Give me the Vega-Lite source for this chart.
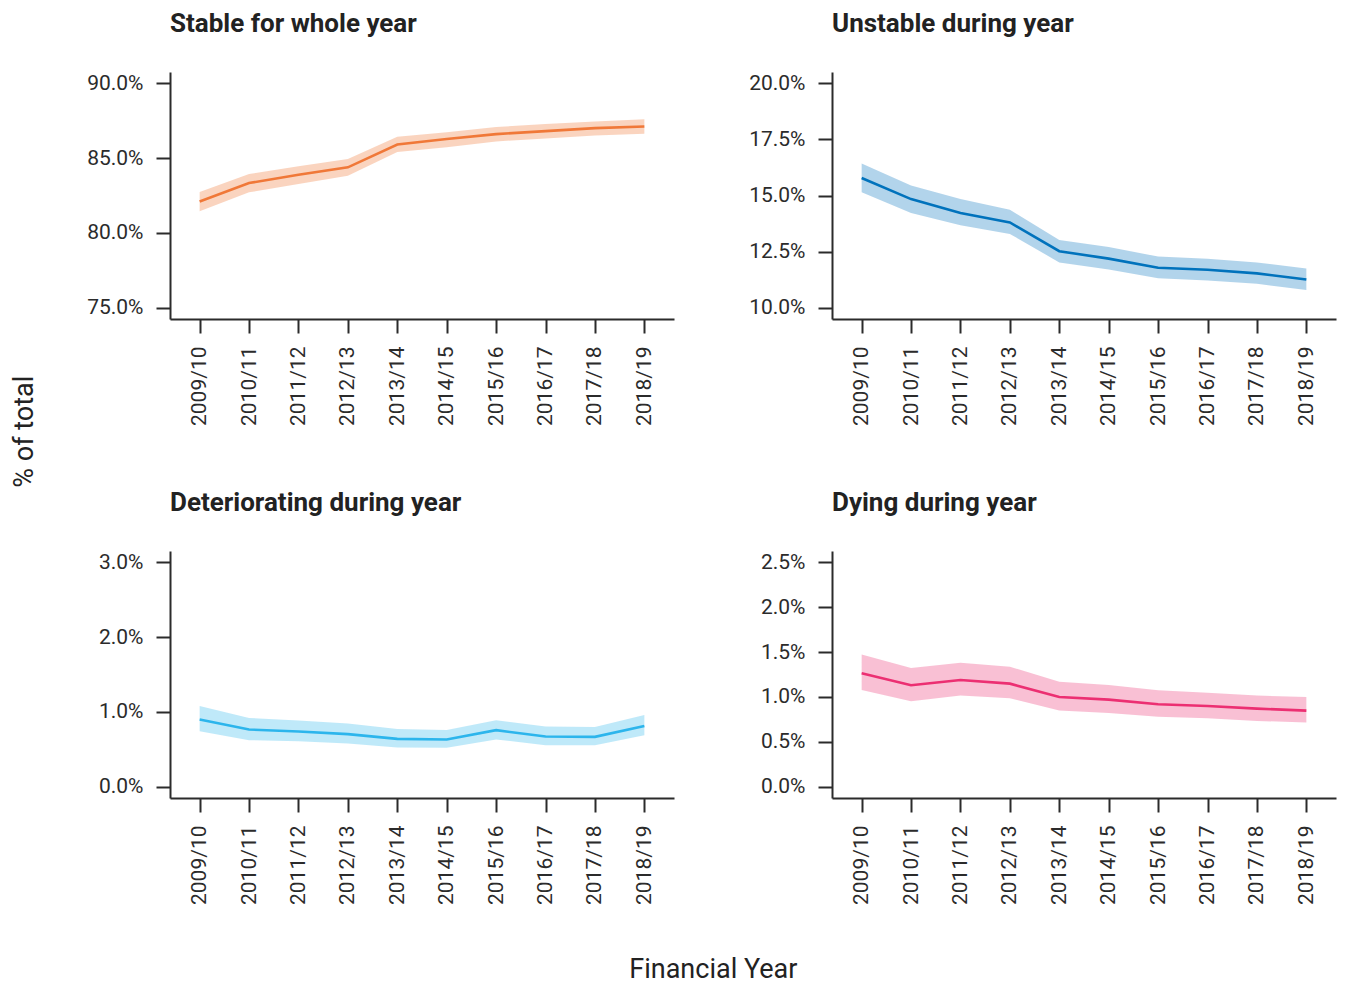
{
  "$schema": "https://vega.github.io/schema/vega-lite/v6.json",
  "background": "white",
  "padding": {"left": 10, "top": 11, "right": 8, "bottom": 6},
  "config": {
    "font": "Roboto",
    "view": {"stroke": null},
    "axis": {
      "grid": false,
      "domainColor": "#2b2b2b",
      "domainWidth": 2,
      "tickColor": "#2b2b2b",
      "tickWidth": 2,
      "tickSize": 14,
      "labelPadding": 13,
      "labelFontSize": 21,
      "labelColor": "#2b2b2b",
      "labelFont": "Roboto",
      "title": null
    },
    "title": {"font": "Roboto", "color": "#222222"}
  },
  "datasets": {
    "d": [
      {"p": "stable", "year": "2009/10", "v": 0.8210, "lo": 0.8145, "hi": 0.8273},
      {"p": "stable", "year": "2010/11", "v": 0.8333, "lo": 0.8271, "hi": 0.8393},
      {"p": "stable", "year": "2011/12", "v": 0.8389, "lo": 0.8327, "hi": 0.8445},
      {"p": "stable", "year": "2012/13", "v": 0.8438, "lo": 0.8382, "hi": 0.8493},
      {"p": "stable", "year": "2013/14", "v": 0.8591, "lo": 0.8540, "hi": 0.8643},
      {"p": "stable", "year": "2014/15", "v": 0.8627, "lo": 0.8573, "hi": 0.8673},
      {"p": "stable", "year": "2015/16", "v": 0.8660, "lo": 0.8611, "hi": 0.8707},
      {"p": "stable", "year": "2016/17", "v": 0.8680, "lo": 0.8631, "hi": 0.8727},
      {"p": "stable", "year": "2017/18", "v": 0.8700, "lo": 0.8651, "hi": 0.8745},
      {"p": "stable", "year": "2018/19", "v": 0.8711, "lo": 0.8663, "hi": 0.8760},
      {"p": "unstable", "year": "2009/10", "v": 0.1578, "lo": 0.1514, "hi": 0.1642},
      {"p": "unstable", "year": "2010/11", "v": 0.1484, "lo": 0.1422, "hi": 0.1544},
      {"p": "unstable", "year": "2011/12", "v": 0.1422, "lo": 0.1368, "hi": 0.1484},
      {"p": "unstable", "year": "2012/13", "v": 0.1380, "lo": 0.1329, "hi": 0.1437},
      {"p": "unstable", "year": "2013/14", "v": 0.1252, "lo": 0.1202, "hi": 0.1302},
      {"p": "unstable", "year": "2014/15", "v": 0.1219, "lo": 0.1171, "hi": 0.1271},
      {"p": "unstable", "year": "2015/16", "v": 0.1178, "lo": 0.1131, "hi": 0.1228},
      {"p": "unstable", "year": "2016/17", "v": 0.1169, "lo": 0.1122, "hi": 0.1218},
      {"p": "unstable", "year": "2017/18", "v": 0.1153, "lo": 0.1107, "hi": 0.1202},
      {"p": "unstable", "year": "2018/19", "v": 0.1126, "lo": 0.1079, "hi": 0.1175},
      {"p": "deteriorating", "year": "2009/10", "v": 0.00899, "lo": 0.00743, "hi": 0.01080},
      {"p": "deteriorating", "year": "2010/11", "v": 0.00765, "lo": 0.00623, "hi": 0.00920},
      {"p": "deteriorating", "year": "2011/12", "v": 0.00739, "lo": 0.00609, "hi": 0.00885},
      {"p": "deteriorating", "year": "2012/13", "v": 0.00703, "lo": 0.00579, "hi": 0.00845},
      {"p": "deteriorating", "year": "2013/14", "v": 0.00640, "lo": 0.00525, "hi": 0.00773},
      {"p": "deteriorating", "year": "2014/15", "v": 0.00632, "lo": 0.00520, "hi": 0.00760},
      {"p": "deteriorating", "year": "2015/16", "v": 0.00756, "lo": 0.00632, "hi": 0.00889},
      {"p": "deteriorating", "year": "2016/17", "v": 0.00672, "lo": 0.00556, "hi": 0.00805},
      {"p": "deteriorating", "year": "2017/18", "v": 0.00667, "lo": 0.00556, "hi": 0.00800},
      {"p": "deteriorating", "year": "2018/19", "v": 0.00813, "lo": 0.00689, "hi": 0.00960},
      {"p": "dying", "year": "2009/10", "v": 0.01263, "lo": 0.01078, "hi": 0.01474},
      {"p": "dying", "year": "2010/11", "v": 0.01130, "lo": 0.00952, "hi": 0.01322},
      {"p": "dying", "year": "2011/12", "v": 0.01189, "lo": 0.01015, "hi": 0.01381},
      {"p": "dying", "year": "2012/13", "v": 0.01148, "lo": 0.00985, "hi": 0.01337},
      {"p": "dying", "year": "2013/14", "v": 0.01000, "lo": 0.00848, "hi": 0.01170},
      {"p": "dying", "year": "2014/15", "v": 0.00970, "lo": 0.00822, "hi": 0.01133},
      {"p": "dying", "year": "2015/16", "v": 0.00919, "lo": 0.00781, "hi": 0.01074},
      {"p": "dying", "year": "2016/17", "v": 0.00900, "lo": 0.00763, "hi": 0.01048},
      {"p": "dying", "year": "2017/18", "v": 0.00870, "lo": 0.00733, "hi": 0.01015},
      {"p": "dying", "year": "2018/19", "v": 0.00848, "lo": 0.00715, "hi": 0.01000}
    ]
  },
  "data": {"name": "d"},
  "title": {"text": "Financial Year", "orient": "bottom", "anchor": "middle", "fontSize": 27, "fontWeight": "normal", "offset": 53, "dx": 40},
  "vconcat": [
    {
      "title": {"text": "% of total", "orient": "left", "anchor": "middle", "fontSize": 27, "fontWeight": "normal", "offset": 48, "dx": 26},
      "columns": 2,
      "spacing": {"row": 64, "column": 74},
      "concat": [
        {
          "title": {"text": "Stable for whole year", "anchor": "start", "frame": "group", "fontSize": 26, "fontWeight": "bold", "offset": 35},
          "width": 504, "height": 247,
          "transform": [{"filter": "datum.p == 'stable'"}],
          "encoding": {
            "x": {"field": "year", "type": "ordinal", "scale": {"type": "point", "padding": 0.6}, "axis": {"labelAngle": -90}}
          },
          "layer": [
            {"mark": {"type": "area", "color": "#F07838", "opacity": 0.32},
             "encoding": {"y": {"field": "lo", "type": "quantitative", "scale": {"domain": [0.7425, 0.9075], "nice": false, "zero": false}, "axis": {"values": [0.75, 0.8, 0.85, 0.9], "format": ".1%"}}, "y2": {"field": "hi"}}},
            {"mark": {"type": "line", "color": "#F07838", "strokeWidth": 2.6},
             "encoding": {"y": {"field": "v", "type": "quantitative"}}}
          ]
        },
        {
          "title": {"text": "Unstable during year", "anchor": "start", "frame": "group", "fontSize": 26, "fontWeight": "bold", "offset": 35},
          "width": 504, "height": 247,
          "transform": [{"filter": "datum.p == 'unstable'"}],
          "encoding": {
            "x": {"field": "year", "type": "ordinal", "scale": {"type": "point", "padding": 0.6}, "axis": {"labelAngle": -90}}
          },
          "layer": [
            {"mark": {"type": "area", "color": "#0072BC", "opacity": 0.3},
             "encoding": {"y": {"field": "lo", "type": "quantitative", "scale": {"domain": [0.095, 0.205], "nice": false, "zero": false}, "axis": {"values": [0.1, 0.125, 0.15, 0.175, 0.2], "format": ".1%"}}, "y2": {"field": "hi"}}},
            {"mark": {"type": "line", "color": "#0072BC", "strokeWidth": 2.6},
             "encoding": {"y": {"field": "v", "type": "quantitative"}}}
          ]
        },
        {
          "title": {"text": "Deteriorating during year", "anchor": "start", "frame": "group", "fontSize": 26, "fontWeight": "bold", "offset": 35},
          "width": 504, "height": 247,
          "transform": [{"filter": "datum.p == 'deteriorating'"}],
          "encoding": {
            "x": {"field": "year", "type": "ordinal", "scale": {"type": "point", "padding": 0.6}, "axis": {"labelAngle": -90}}
          },
          "layer": [
            {"mark": {"type": "area", "color": "#2CB5EC", "opacity": 0.3},
             "encoding": {"y": {"field": "lo", "type": "quantitative", "scale": {"domain": [-0.0015, 0.0315], "nice": false, "zero": false}, "axis": {"values": [0, 0.01, 0.02, 0.03], "format": ".1%"}}, "y2": {"field": "hi"}}},
            {"mark": {"type": "line", "color": "#2CB5EC", "strokeWidth": 2.6},
             "encoding": {"y": {"field": "v", "type": "quantitative"}}}
          ]
        },
        {
          "title": {"text": "Dying during year", "anchor": "start", "frame": "group", "fontSize": 26, "fontWeight": "bold", "offset": 35},
          "width": 504, "height": 247,
          "transform": [{"filter": "datum.p == 'dying'"}],
          "encoding": {
            "x": {"field": "year", "type": "ordinal", "scale": {"type": "point", "padding": 0.6}, "axis": {"labelAngle": -90}}
          },
          "layer": [
            {"mark": {"type": "area", "color": "#EC2F72", "opacity": 0.3},
             "encoding": {"y": {"field": "lo", "type": "quantitative", "scale": {"domain": [-0.00125, 0.02625], "nice": false, "zero": false}, "axis": {"values": [0, 0.005, 0.01, 0.015, 0.02, 0.025], "format": ".1%"}}, "y2": {"field": "hi"}}},
            {"mark": {"type": "line", "color": "#EC2F72", "strokeWidth": 2.6},
             "encoding": {"y": {"field": "v", "type": "quantitative"}}}
          ]
        }
      ]
    }
  ]
}
